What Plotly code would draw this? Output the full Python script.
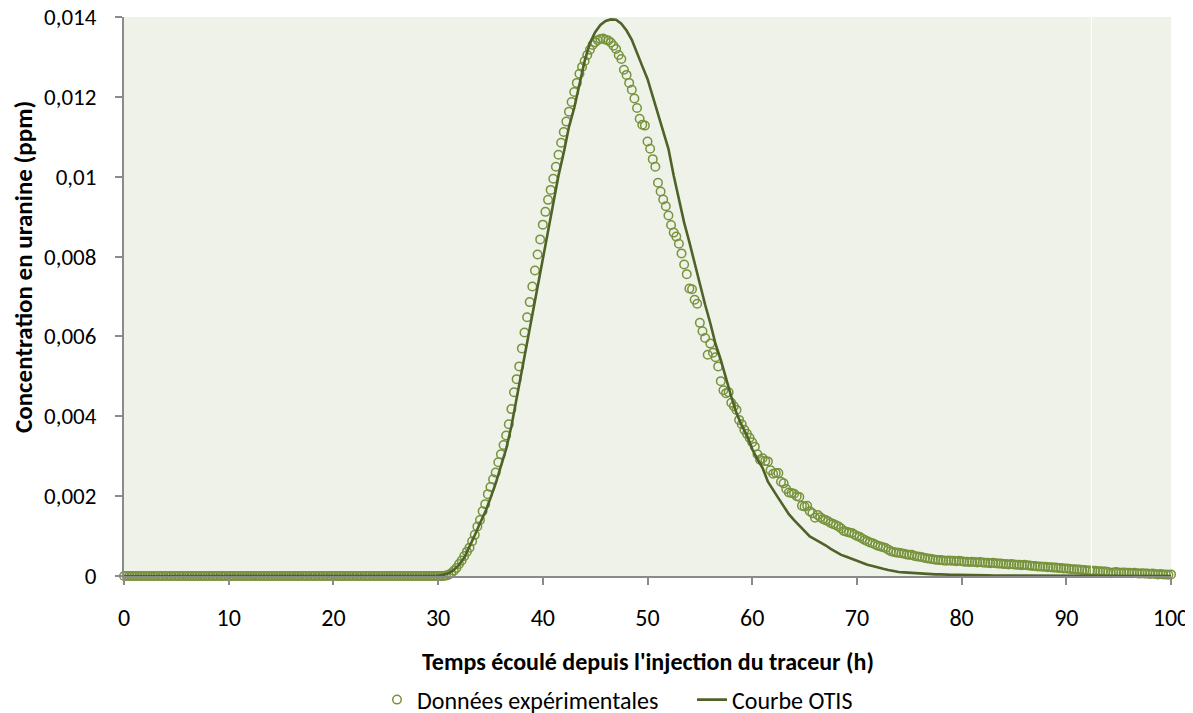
import plotly.graph_objects as go

# ---------------- data ----------------
# Experimental data: one sample every 0.25 h from 0 h to 100 h (ppm)
exp_step_h = 0.25
y_exp = [
    # 0 - 29.75 h
    0, 0, 0, 0, 0, 0, 0, 0,  0, 0, 0, 0, 0, 0, 0, 0,
    0, 0, 0, 0, 0, 0, 0, 0,  0, 0, 0, 0, 0, 0, 0, 0,
    0, 0, 0, 0, 0, 0, 0, 0,  0, 0, 0, 0, 0, 0, 0, 0,
    0, 0, 0, 0, 0, 0, 0, 0,  0, 0, 0, 0, 0, 0, 0, 0,
    0, 0, 0, 0, 0, 0, 0, 0,  0, 0, 0, 0, 0, 0, 0, 0,
    0, 0, 0, 0, 0, 0, 0, 0,  0, 0, 0, 0, 0, 0, 0, 0,
    0, 0, 0, 0, 0, 0, 0, 0,  0, 0, 0, 0, 0, 0, 0, 0,
    0, 0, 0, 0, 0, 0, 0, 0,
    # 30 h
    0, 0, 0, 0.00001, 0.00003, 0.00007, 0.00013, 0.0002,
    # 32 h
    0.0003, 0.00039, 0.0005, 0.00061, 0.00071, 0.00087, 0.00103, 0.00124,
    # 34 h
    0.0014, 0.00162, 0.0018, 0.00205, 0.00223, 0.00242, 0.00259, 0.00285,
    # 36 h
    0.00305, 0.00328, 0.00352, 0.0038, 0.00418, 0.0046, 0.00493, 0.00525,
    # 38 h
    0.0057, 0.0061, 0.00648, 0.00686, 0.00725, 0.00765, 0.00805, 0.00843,
    # 40 h
    0.0088, 0.00912, 0.00942, 0.00967, 0.00995, 0.01025, 0.01055, 0.01085,
    # 42 h
    0.01112, 0.01138, 0.01163, 0.01187, 0.01212, 0.01235, 0.01258, 0.01275,
    # 44 h
    0.0129, 0.01305, 0.01318, 0.0133, 0.01337, 0.01342, 0.01345, 0.01346,
    # 46 h
    0.01343, 0.01341, 0.01336, 0.01328, 0.0132, 0.01305, 0.01295, 0.01268,
    # 48 h
    0.01255, 0.01235, 0.01218, 0.01196, 0.01172, 0.01145, 0.0113, 0.01128,
    # 50 h
    0.01088, 0.0107, 0.01044, 0.01025, 0.00985, 0.00963, 0.00943, 0.00926,
    # 52 h
    0.00903, 0.00879, 0.0086, 0.0085, 0.00832, 0.00808, 0.0078, 0.00756,
    # 54 h
    0.0072, 0.00718, 0.00692, 0.00682, 0.00634, 0.00613, 0.00596, 0.00554,
    # 56 h
    0.00582, 0.00559, 0.00548, 0.00525, 0.00488, 0.00465, 0.00458, 0.0046,
    # 58 h
    0.00434, 0.00425, 0.00416, 0.00391, 0.0038, 0.00366, 0.00356, 0.00346,
    # 60 h
    0.00335, 0.00324, 0.00305, 0.00291, 0.00295, 0.00288, 0.00287, 0.00265,
    # 62 h
    0.00256, 0.00258, 0.00258, 0.00236, 0.00232, 0.00218, 0.00209, 0.00208,
    # 64 h
    0.00206, 0.002, 0.00198, 0.00176, 0.00174, 0.00176, 0.00162, 0.00157,
    # 66 h
    0.00146, 0.00153, 0.00147, 0.00143, 0.0014, 0.00137, 0.00133, 0.0013,
    # 68 h
    0.00127, 0.00124, 0.00119, 0.00113, 0.00111, 0.00109, 0.00108, 0.00104,
    # 70 h
    0.001, 0.00098, 0.00094, 0.0009, 0.00087, 0.00084, 0.00082, 0.00079,
    # 72 h
    0.00076, 0.00074, 0.00072, 0.0007, 0.00066, 0.00062, 0.0006, 0.00059,
    # 74 h
    0.00058, 0.00057, 0.00056, 0.00054, 0.00053, 0.00053, 0.0005, 0.00049,
    # 76 h
    0.00048, 0.00047, 0.00045, 0.00044, 0.00043, 0.00042, 0.00041, 0.0004,
    # 78 h
    0.0004, 0.00039, 0.00038, 0.00039, 0.00038, 0.00038, 0.00037, 0.00038,
    # 80 h
    0.00037, 0.00036, 0.00036, 0.00035, 0.00036, 0.00035, 0.00034, 0.00035,
    # 82 h
    0.00034, 0.00033, 0.00033, 0.00032, 0.00033, 0.00032, 0.00031, 0.00031,
    # 84 h
    0.0003, 0.0003, 0.00029, 0.0003, 0.00029, 0.00028, 0.00028, 0.00027,
    # 86 h
    0.00028, 0.00027, 0.00026, 0.00025, 0.00025, 0.00024, 0.00024, 0.00023,
    # 88 h
    0.00023, 0.00022, 0.00022, 0.00021, 0.00021, 0.0002, 0.0002, 0.00019,
    # 90 h
    0.00019, 0.00018, 0.00017, 0.00017, 0.00016, 0.00016, 0.00015, 0.00015,
    # 92 h
    0.00014, 0.00014, 0.00013, 0.00013, 0.00012, 0.00012, 0.00011, 0.00011,
    # 94 h
    0.0001, 0.00007, 0.00009, 0.0001, 0.00009, 0.00008, 0.00009, 0.00008,
    # 96 h
    0.00008, 0.00007, 0.00008, 0.00007, 0.00006, 0.00007, 0.00006, 0.00006,
    # 98 h
    0.00005, 0.00006, 0.00005, 0.00004, 0.00005, 0.00004, 0.00004, 0.00003,
    # 100 h
    0.00004,
]
t_exp = [i * exp_step_h for i in range(len(y_exp))]

# OTIS model curve: one value every 0.5 h from 0 h to 100 h (ppm)
otis_step_h = 0.5
y_otis = [
    # 0 - 29.5 h
    0, 0, 0, 0, 0, 0, 0, 0, 0, 0, 0, 0, 0, 0, 0, 0, 0, 0, 0, 0,
    0, 0, 0, 0, 0, 0, 0, 0, 0, 0, 0, 0, 0, 0, 0, 0, 0, 0, 0, 0,
    0, 0, 0, 0, 0, 0, 0, 0, 0, 0, 0, 0, 0, 0, 0, 0, 0, 0, 0, 0,
    # 30 h
    0.00001, 0.00003, 0.00007, 0.00015,
    0.00028, 0.00046, 0.00072, 0.00102,
    0.00132, 0.0016, 0.00195, 0.00232,
    0.00275, 0.00318, 0.00375, 0.00445,
    # 38 h
    0.0052, 0.00585, 0.0066, 0.0073,
    0.008, 0.0087, 0.0094, 0.01003,
    0.0106, 0.01125, 0.01172, 0.01235,
    0.0129, 0.01335, 0.01362, 0.0138,
    # 46 h
    0.0139, 0.01394, 0.01393, 0.01383,
    0.01366, 0.01343, 0.01308, 0.01277,
    0.01245, 0.01202, 0.0116, 0.01118,
    0.0107, 0.01003, 0.0094, 0.00885,
    # 54 h
    0.00836, 0.00783, 0.0073, 0.0068,
    0.00633, 0.00581, 0.00541, 0.00493,
    0.00449, 0.00408, 0.00377, 0.00352,
    0.00318, 0.00292, 0.0027, 0.00236,
    # 62 h
    0.00214, 0.00195, 0.00175, 0.00155,
    0.0014, 0.00126, 0.00113, 0.00099,
    0.00092, 0.00085, 0.00077, 0.00068,
    0.0006, 0.00053, 0.00048, 0.00043,
    # 70 h
    0.00037, 0.00032, 0.00028, 0.00025,
    0.00021, 0.00018, 0.00015, 0.00012,
    0.0001, 0.00009, 0.00008, 0.00007,
    0.00006, 0.00005, 0.00005, 0.00004,
    # 78 h
    0.00004, 0.00003, 0.00003, 0.00003,
    0.00003, 0.00002, 0.00002, 0.00002,
    0.00002, 0.00002, 0.00001, 0.00001,
    0.00001, 0.00001, 0.00001, 0.00001,
    # 86 h
    0.00001, 0.00001, 0.00001, 0.00001,
    0.00001, 0.00001, 0.00001, 0.00001,
    # 90 h
    0, 0, 0, 0, 0, 0, 0, 0, 0, 0, 0, 0, 0, 0, 0, 0, 0, 0, 0, 0,
    # 100 h
    0,
]
t_otis = [i * otis_step_h for i in range(len(y_otis))]

x_ticks = [0, 10, 20, 30, 40, 50, 60, 70, 80, 90, 100]
y_ticks = [0, 0.002, 0.004, 0.006, 0.008, 0.010, 0.012, 0.014]

series_names = ["Données expérimentales", "Courbe OTIS"]
x_title = "Temps écoulé depuis l'injection du traceur (h)"
y_title = "Concentration en uranine (ppm)"

# ---------------- figure ----------------
FONT = "Calibri, Carlito, Lato, 'Open Sans', sans-serif"
AXIS_GREY = "#8a8a8a"
OFF = 8                      # page body margin of the html page
W, H = 1193 - OFF, 713
L, T = 124 - OFF, 17 - OFF
R = W - (1171 - OFF)
B = H - (576 - OFF)
PW, PH = W - L - R, H - T - B


def px_x(sx):
    """screen x -> paper fraction"""
    return (sx - OFF - L) / PW


def px_y(sy):
    """screen y -> paper fraction"""
    return (H - B - (sy - OFF)) / PH


fig = go.Figure()
fig.add_trace(go.Scatter(
    x=t_exp, y=y_exp, mode="markers", name=series_names[0],
    marker=dict(symbol="circle-open", size=8.5, color="#77933C",
                line=dict(width=1.5, color="#77933C")),
    cliponaxis=False,
))
fig.add_trace(go.Scatter(
    x=t_otis, y=y_otis, mode="lines", name=series_names[1],
    line=dict(color="#4F6228", width=2.6),
    cliponaxis=False,
))

fig.update_layout(
    width=W, height=H,
    margin=dict(l=L, r=R, t=T, b=B, autoexpand=False),
    paper_bgcolor="white",
    plot_bgcolor="#EFF2E9",
    separators=", ",
    font=dict(family=FONT, size=24, color="#000000"),
    showlegend=True,
    legend=dict(orientation="h", x=px_x(377), xanchor="left",
                y=px_y(700), yanchor="middle",
                font=dict(family=FONT, size=24, color="#000000"),
                bgcolor="rgba(0,0,0,0)", itemsizing="trace",
                entrywidth=270, entrywidthmode="pixels",
                tracegroupgap=0),
    xaxis=dict(range=[0, 100], tickvals=x_ticks, ticks="outside",
               ticklen=7, tickwidth=1.5, tickcolor=AXIS_GREY,
               showline=True, linecolor=AXIS_GREY, linewidth=2,
               showgrid=False, zeroline=False, ticklabelstandoff=12,
               automargin=False, ticklabeloverflow="allow",
               tickfont=dict(family=FONT, size=24)),
    yaxis=dict(range=[0, 0.014], tickvals=y_ticks, ticks="outside",
               ticklen=7, tickwidth=1.5, tickcolor=AXIS_GREY,
               showline=True, linecolor=AXIS_GREY, linewidth=2,
               showgrid=False, zeroline=False, ticklabelstandoff=14,
               tickformat=",.3~f", automargin=False,
               ticklabeloverflow="allow",
               tickfont=dict(family=FONT, size=23)),
    annotations=[
        dict(text="<b>" + x_title + "</b>", xref="paper", yref="paper",
             x=0.5, y=px_y(661), xanchor="center", yanchor="middle",
             showarrow=False, font=dict(family=FONT, size=24)),
        dict(text="<b>" + y_title + "</b>", xref="paper", yref="paper",
             x=px_x(23), y=px_y(267), xanchor="center",
             yanchor="middle", textangle=-90, showarrow=False,
             font=dict(family=FONT, size=25)),
    ],
    shapes=[dict(type="line", xref="x", yref="paper", x0=92.4, x1=92.4,
                 y0=0.004, y1=1, line=dict(color="white", width=1))],
)

fig.write_html("out.html")
